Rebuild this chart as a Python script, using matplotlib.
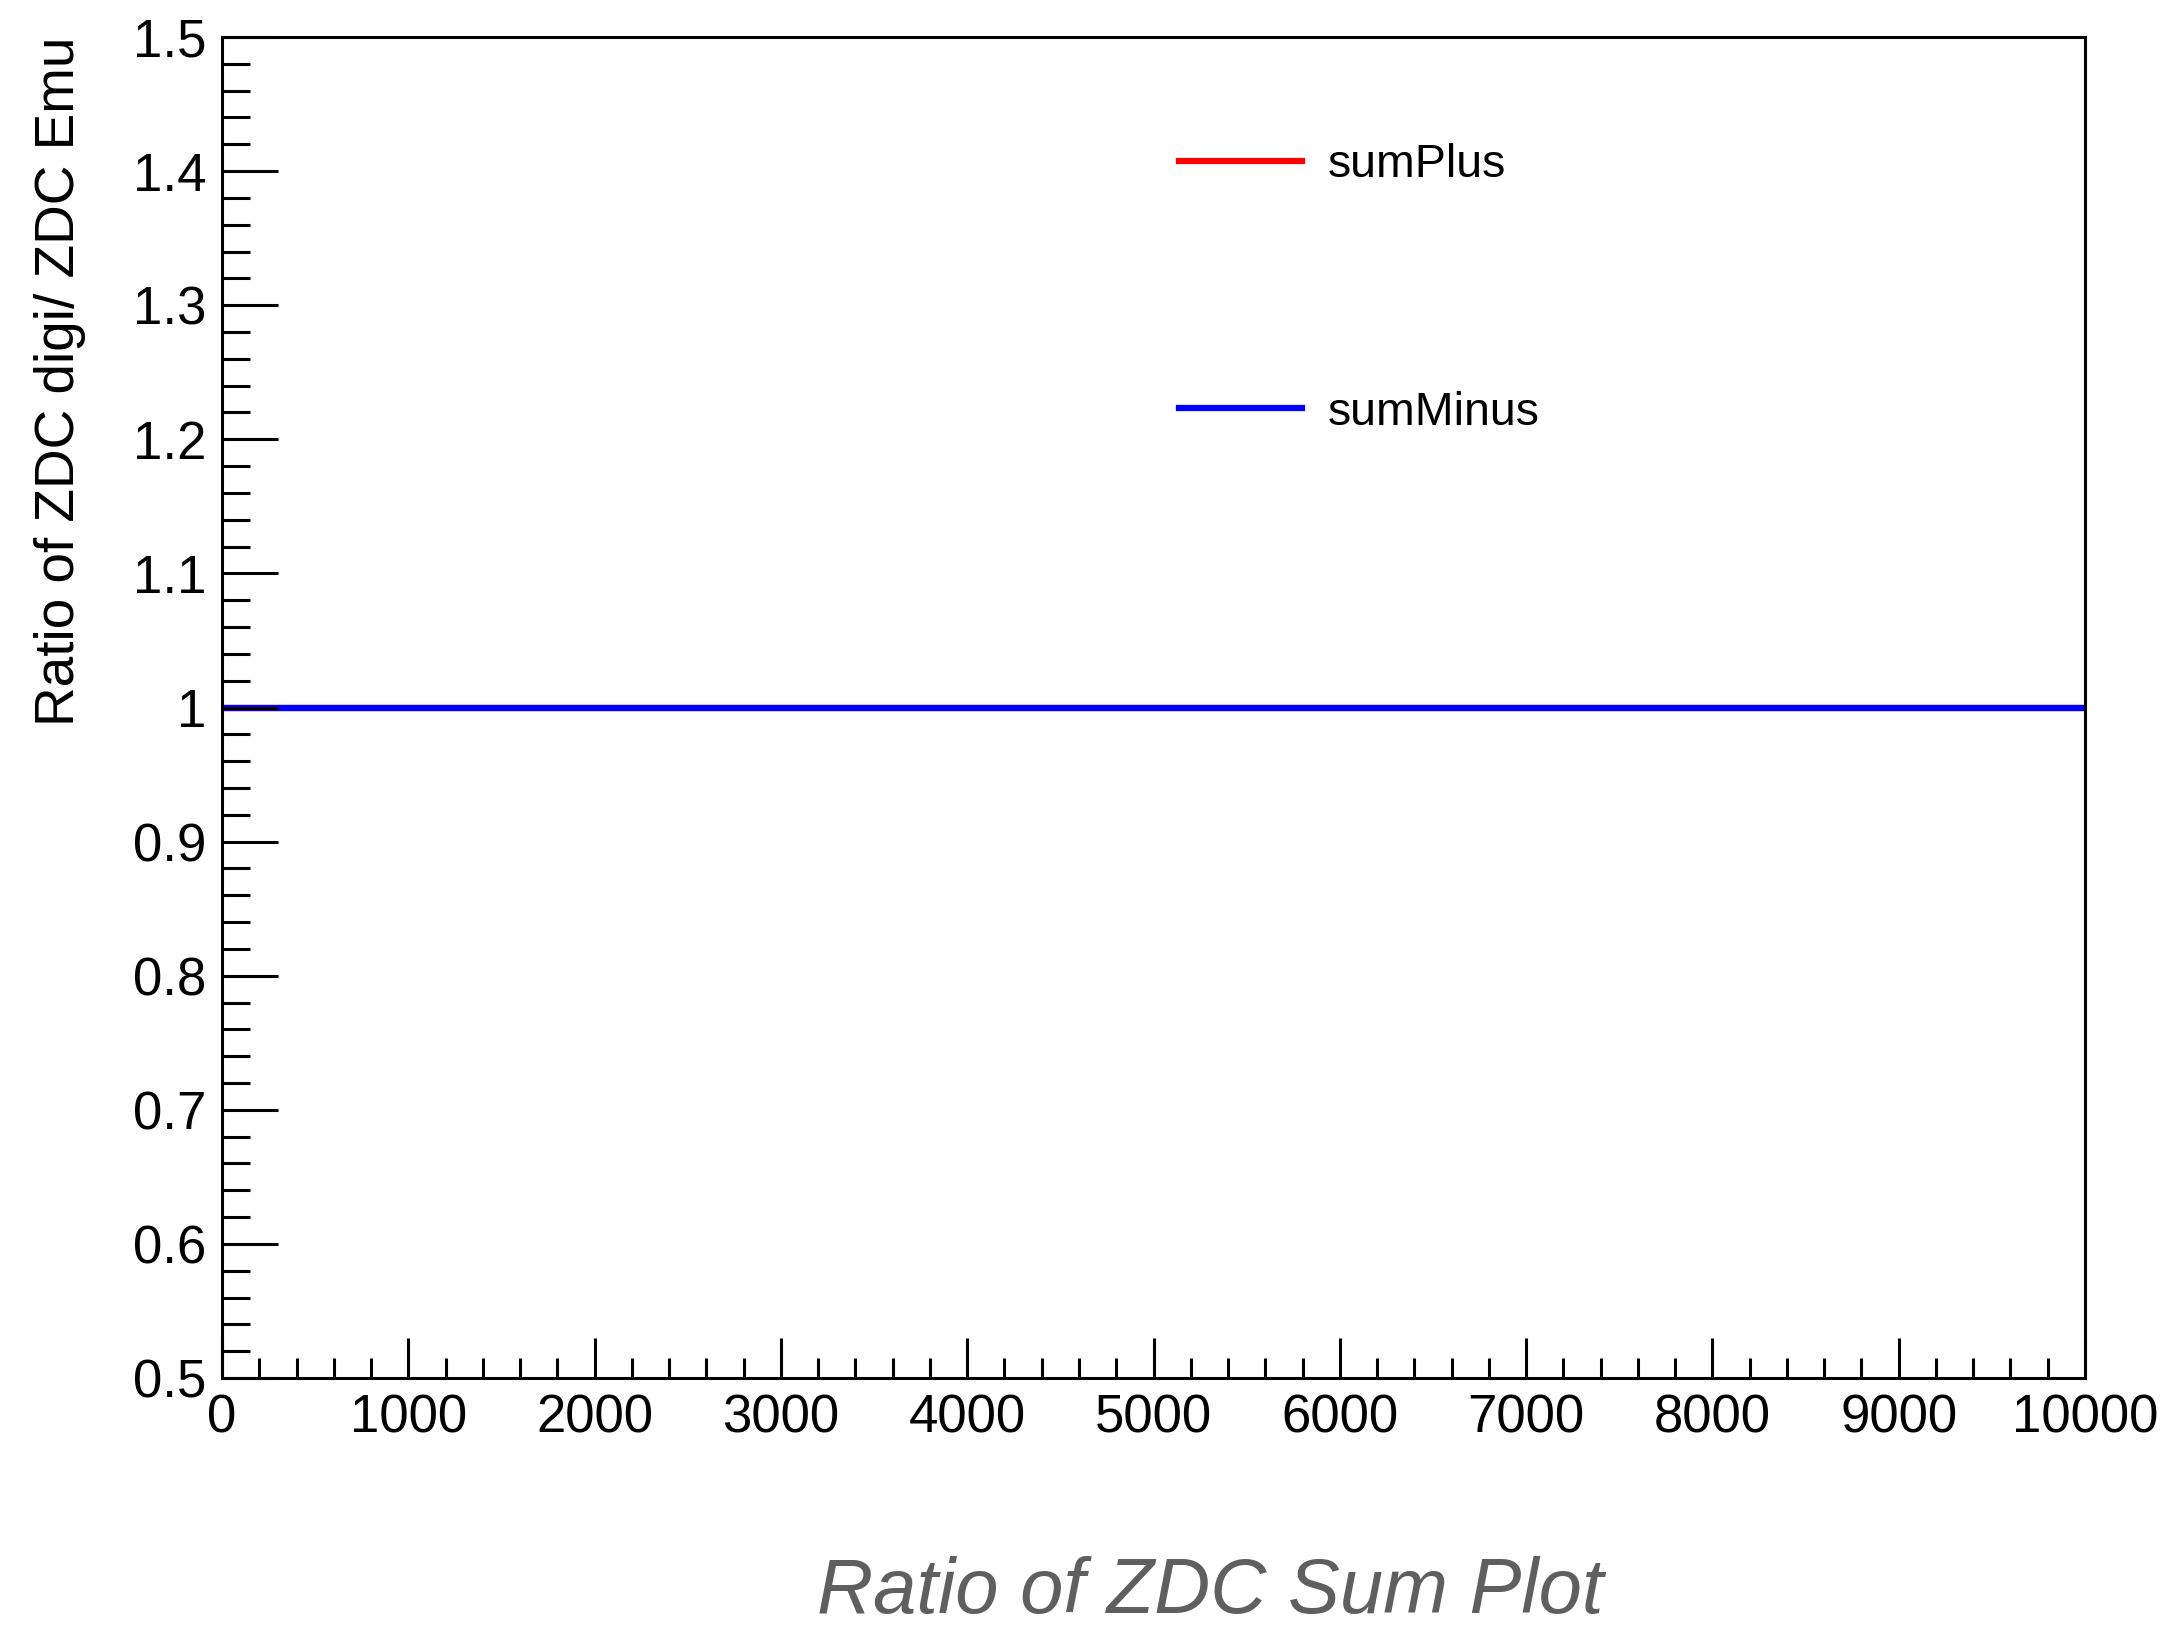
import matplotlib
matplotlib.use("Agg")
import matplotlib.pyplot as plt
import numpy as np

plt.rcParams['font.family'] = ['Liberation Sans', 'DejaVu Sans']

# bin edges (20 bins of 500) and ratio values per bin
bin_edges = [0, 500, 1000, 1500, 2000, 2500, 3000, 3500, 4000, 4500, 5000,
             5500, 6000, 6500, 7000, 7500, 8000, 8500, 9000, 9500, 10000]
sum_plus = [1.0, 1.0, 1.0, 1.0, 1.0, 1.0, 1.0, 1.0, 1.0, 1.0,
            1.0, 1.0, 1.0, 1.0, 1.0, 1.0, 1.0, 1.0, 1.0, 1.0]
sum_minus = [1.0, 1.0, 1.0, 1.0, 1.0, 1.0, 1.0, 1.0, 1.0, 1.0,
             1.0, 1.0, 1.0, 1.0, 1.0, 1.0, 1.0, 1.0, 1.0, 1.0]

fig = plt.figure(figsize=(21.73, 16.25), dpi=100)
ax = fig.add_axes([222/2173, 1 - 1378/1625, 1863/2173, 1341/1625])

ax.stairs(sum_plus, bin_edges, color='#ff0000', lw=4.5, label='sumPlus', baseline=None)
ax.stairs(sum_minus, bin_edges, color='#0000ff', lw=4.5, label='sumMinus', baseline=None)

ax.set_xlim(0, 10000)
ax.set_ylim(0.5, 1.5)
ax.set_xticks(np.arange(0, 10001, 1000))
ax.set_xticks(np.arange(0, 10001, 200), minor=True)
ax.set_yticks(np.arange(0.5, 1.51, 0.1))
ax.set_yticks(np.arange(0.5, 1.51, 0.02), minor=True)
ax.set_yticklabels(['0.5', '0.6', '0.7', '0.8', '0.9', '1', '1.1', '1.2', '1.3', '1.4', '1.5'])

for s in ax.spines.values():
    s.set_linewidth(2.2)
ax.tick_params(axis='both', which='both', direction='in', width=2.2, labelsize=38, pad=11)
ax.tick_params(axis='y', which='major', length=40)
ax.tick_params(axis='y', which='minor', length=20)
ax.tick_params(axis='x', which='major', length=29)
ax.tick_params(axis='x', which='minor', length=14.5)

ax.legend(loc='upper left', bbox_to_anchor=(0.5137, 0.921), frameon=False,
          fontsize=33.5, handlelength=2.65, handletextpad=0.54, labelspacing=4.38,
          borderpad=0, borderaxespad=0)

fig.text(60/2173, 1 - 37/1625, 'Ratio of ZDC digi/ ZDC Emu', rotation=90,
         ha='center', va='top', fontsize=39.5)
fig.text(1210/2173, 12/1625, 'Ratio of ZDC Sum Plot', ha='center', va='baseline',
         fontsize=56, style='italic', color='#5f5f5f')

fig.savefig('out.png', dpi=100)
